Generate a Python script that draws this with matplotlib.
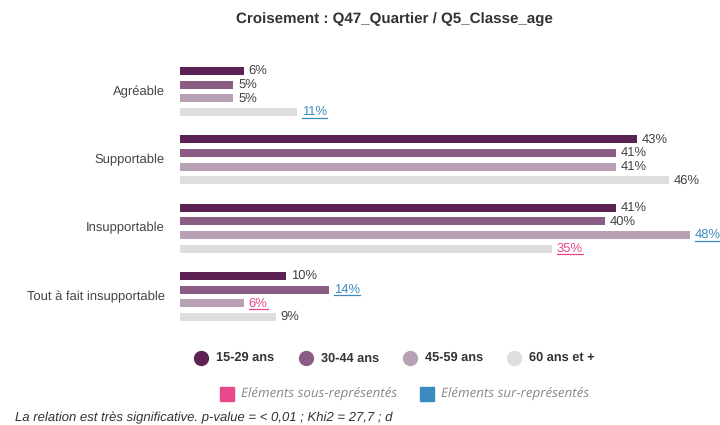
import matplotlib
matplotlib.use("Agg")
import matplotlib.pyplot as plt
from matplotlib.lines import Line2D
from matplotlib.patches import Rectangle

plt.rcParams['font.family'] = ['Liberation Sans', 'DejaVu Sans']
plt.rcParams['text.hinting'] = 'no_hinting'

# Data
categories = ["Agréable", "Supportable", "Insupportable", "Tout à fait insupportable"]
series = ["15-29 ans", "30-44 ans", "45-59 ans", "60 ans et +"]
values = {
    "15-29 ans":   [6, 43, 41, 10],
    "30-44 ans":   [5, 41, 40, 14],
    "45-59 ans":   [5, 41, 48, 6],
    "60 ans et +": [11, 46, 35, 9],
}
# significance flag per cell: 0 normal, -1 under-represented, +1 over-represented
signif = {
    "15-29 ans":   [0, 0, 0, 0],
    "30-44 ans":   [0, 0, 0, 1],
    "45-59 ans":   [0, 0, 1, -1],
    "60 ans et +": [1, 0, -1, 0],
}
colors = ["#5c2253", "#8c5d84", "#b9a1b5", "#dedede"]
col_under = "#e8488a"
col_over = "#3b8bc0"
txt_col = "#444444"

W, H = 720, 425
fig = plt.figure(figsize=(7.2, 4.25), dpi=100)

# axes placed in pixel units
ax_left, ax_right, ax_top, ax_bot = 180, 700, 60, 330
ax = fig.add_axes([ax_left / W, 1 - ax_bot / H, (ax_right - ax_left) / W, (ax_bot - ax_top) / H])
px_per_pct = 510 / 48
ax.set_xlim(0, (ax_right - ax_left) / px_per_pct)
unit = 246 / 18
ax.set_ylim(18 + (ax_bot - 317) / unit, -(71 - ax_top) / unit)
ax.axis("off")

group_gap = 5
bar_h = 8 / unit
underlines = []
for k, s in enumerate(series):
    ys = [g * group_gap + k for g in range(len(categories))]
    ax.barh(ys, values[s], height=bar_h, color=colors[k], edgecolor="none")
    for g, v in enumerate(values[s]):
        flag = signif[s][g]
        c = txt_col if flag == 0 else (col_under if flag < 0 else col_over)
        t = ax.text(v + 5 / px_per_pct, ys[g], f"{v}%", va="center", ha="left",
                    fontsize=9.4, color=c)
        if flag != 0:
            underlines.append((t, c))

for g, cat in enumerate(categories):
    yc = g * group_gap + 1.5
    ax.text(-15 / px_per_pct, yc, cat, ha="right", va="center", fontsize=9.4,
            color=txt_col, clip_on=False)

# title
fig.text(394 / W, 1 - 20 / H, "Croisement : Q47_Quartier / Q5_Classe_age",
         ha="center", va="center", fontsize=10.9, fontweight="bold", color="#333333")

# legend, age classes
leg_x = [201, 306, 410, 514]
for k, s in enumerate(series):
    fig.add_artist(Line2D([leg_x[k] / W], [1 - 358 / H], marker="o", markersize=10,
                          color=colors[k], linestyle="none"))
    fig.text((leg_x[k] + 15) / W, 1 - 358 / H, s, ha="left", va="center",
             fontsize=9.2, fontweight="bold", color="#333333")

# legend, significance
for x0, c, lab in [(227, col_under, "Eléments sous-représentés"),
                   (427, col_over, "Eléments sur-représentés")]:
    fig.add_artist(Line2D([x0 / W], [1 - 394 / H], marker="s", markersize=10,
                          color=c, linestyle="none"))
    fig.text((x0 + 14) / W, 1 - 394 / H, lab, ha="left", va="center", fontsize=9.6,
             style="italic", color="#888888", family=["Open Sans", "DejaVu Sans"])

# footer note, cut at the panel edge
fig.text(15 / W, 1 - 418 / H,
         "La relation est très significative. p-value = < 0,01 ; Khi2 = 27,7 ; ddl = 9.",
         ha="left", va="center", fontsize=9.45, style="italic", color="#333333")
fig.add_artist(Rectangle((393 / W, 0), 1 - 393 / W, 18 / H, transform=fig.transFigure,
                         facecolor="white", edgecolor="none", zorder=10))

# underline colored value labels
fig.canvas.draw()
r = fig.canvas.get_renderer()
for t, c in underlines:
    bb = t.get_window_extent(renderer=r)
    yl = bb.y0 + 0.5
    fig.add_artist(Line2D([bb.x0 / W, bb.x1 / W], [yl / H, yl / H], color=c, linewidth=0.9))

fig.savefig("out.png", dpi=100, facecolor="white")
